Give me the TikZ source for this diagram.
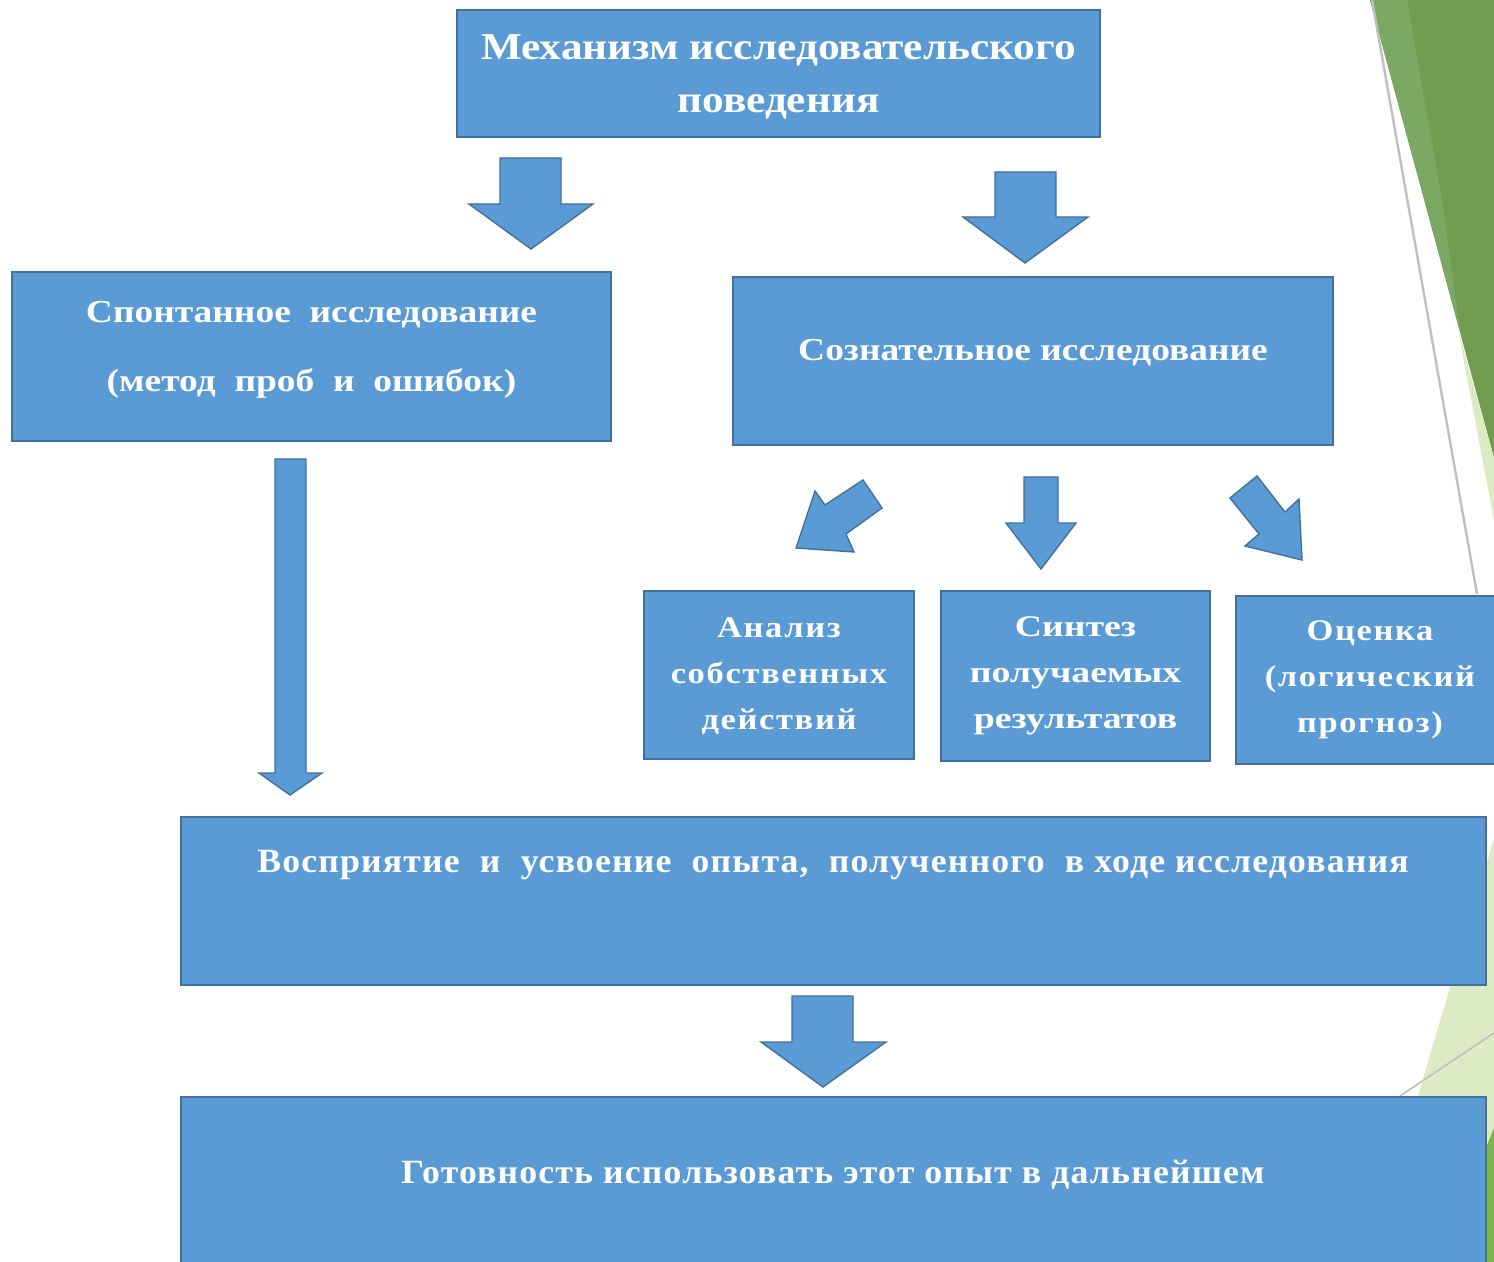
\documentclass[tikz,border=0pt]{standalone}
\usepackage{fontspec}
\setmainfont{Liberation Serif}
\newfontfamily\fA{Liberation Serif}[FakeStretch=1.14]
\newfontfamily\fB{Liberation Serif}[FakeStretch=1.17]
\newfontfamily\fC{Liberation Serif}[FakeStretch=1.15, LetterSpace=5.5]
\newfontfamily\fD{Liberation Serif}[FakeStretch=1.26]
\newfontfamily\fE{Liberation Serif}[FakeStretch=1.05, LetterSpace=3.5]
\definecolor{boxblue}{HTML}{5B9BD5}
\definecolor{boxline}{HTML}{41719C}
\definecolor{darkgreen}{HTML}{719D50}
\definecolor{midgreen}{HTML}{7BA862}
\definecolor{palegreen}{HTML}{DDEBC4}
\definecolor{brightgreen}{HTML}{7AB648}
\definecolor{thinline}{HTML}{BFBFBF}
\begin{document}
\begin{tikzpicture}[x=0.5pt,y=-0.5pt,
  box/.style={draw=boxline, fill=boxblue, line width=0.9pt, inner sep=0pt},
  lbl/.style={text=white, align=center, inner sep=0pt},
  barrow/.style={draw=boxline, fill=boxblue, line width=0.7pt, line join=miter}]
\useasboundingbox (0,0) rectangle (1494,1262);
\clip (0,0) rectangle (1494,1262);
% background decoration
\fill[darkgreen] (1370,0) -- (1494,0) -- (1494,458) -- cycle;
\fill[midgreen] (1370,0) -- (1407,0) -- (1442,200) -- (1460,330) -- cycle;
\fill[palegreen] (1458,330) -- (1494,458) -- (1494,520) -- cycle;
\draw[thinline, line width=1.2pt] (1372,0) -- (1477,594);
\fill[palegreen] (1494,838) -- (1369,1262) -- (1494,1262) -- cycle;
\fill[brightgreen] (1494,1128) -- (1440,1262) -- (1494,1262) -- cycle;
\draw[thinline, line width=0.8pt] (1400,1096) -- (1494,1033);
% boxes
\node[box, minimum width=321.5pt, minimum height=63.5pt] (b1) at (778.5,73.5) {};
\node[box, minimum width=299.5pt, minimum height=84.5pt] (b2) at (311.5,356.5) {};
\node[box, minimum width=300pt, minimum height=84pt] (b3) at (1033,361) {};
\node[box, minimum width=135pt, minimum height=84pt] (b4) at (779,675) {};
\node[box, minimum width=134.5pt, minimum height=85pt] (b5) at (1075.5,676) {};
\node[box, minimum width=142pt, minimum height=84pt] (b6) at (1378,680) {};
\node[box, minimum width=652.5pt, minimum height=84pt] (b7) at (833.5,901) {};
\node[box, minimum width=652.5pt, minimum height=96.5pt] (b8) at (833.5,1193.5) {};
% labels
\node[lbl, font=\fA\bfseries\fontsize{19}{26.5}\selectfont] (t1) at (778.5,76.5) {Механизм исследовательского\\поведения};
\node[lbl, font=\fB\bfseries\fontsize{16}{34.5}\selectfont] (t2) at (311.5,349.5) {Спонтанное\ \ исследование\\(метод\ \ проб\ \ и\ \ ошибок)};
\node[lbl, font=\fB\bfseries\fontsize{16}{20}\selectfont] (t3) at (1033,353) {Сознательное исследование};
\node[lbl, font=\fC\bfseries\fontsize{15}{23}\selectfont] (t4) at (779,676) {Анализ\\собственных\\действий};
\node[lbl, font=\fD\bfseries\fontsize{15}{23}\selectfont] (t5) at (1075.5,676) {Синтез\\получаемых\\результатов};
\node[lbl, font=\fC\bfseries\fontsize{15}{23}\selectfont] (t6) at (1370,680) {Оценка\\(логический\\прогноз)};
\node[lbl, font=\fE\bfseries\fontsize{17}{20}\selectfont] (t7) at (833,865) {Восприятие\ \ и\ \ усвоение\ \ опыта,\ \ полученного\ \ в ходе исследования};
\node[lbl, font=\fE\bfseries\fontsize{17}{20}\selectfont] (t8) at (833,1175) {Готовность использовать этот опыт в дальнейшем};
% block arrows
\draw[barrow] (500,158) -- (561,158) -- (561,204) -- (593,204) -- (531,249) -- (469,204) -- (500,204) -- cycle;
\draw[barrow] (995,172) -- (1056,172) -- (1056,217) -- (1088,217) -- (1025,263) -- (963,217) -- (995,217) -- cycle;
\draw[barrow] (275,459) -- (306,459) -- (306,773) -- (322,773) -- (290,795) -- (259,773) -- (275,773) -- cycle;
\draw[barrow] (792,996) -- (853,996) -- (853,1042) -- (886,1042) -- (823,1087) -- (761,1042) -- (792,1042) -- cycle;
\draw[barrow] (1024,477) -- (1058,477) -- (1058,523) -- (1076,523) -- (1041,569) -- (1006,523) -- (1024,523) -- cycle;
\draw[barrow] (796,548) -- (815,491) -- (825,505) -- (863,480) -- (882,508) -- (846,534) -- (854,552) -- cycle;
\draw[barrow] (1302,560) -- (1299,499) -- (1285,512) -- (1257,476) -- (1230,498) -- (1259,534) -- (1245,546) -- cycle;
\end{tikzpicture}
\end{document}
